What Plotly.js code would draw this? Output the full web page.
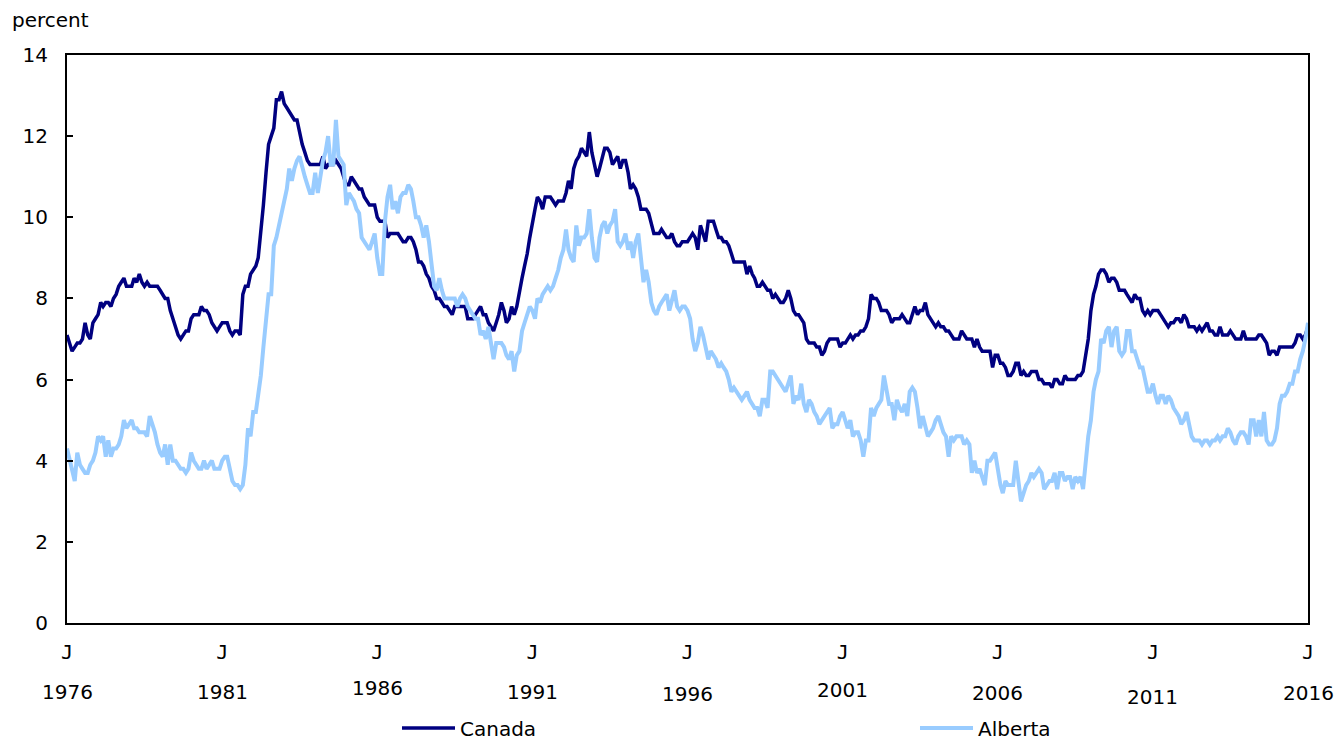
<!DOCTYPE html>
<html>
<head>
<meta charset="utf-8">
<script src="https://cdn.plot.ly/plotly-3.0.1.min.js"></script>
<style>html,body{margin:0;padding:0;background:#fff;}#chart{width:1338px;height:742px;}</style>
</head>
<body>
<div id="chart"></div>
<script>
// Monthly unemployment rate (percent), January 1976 to January 2016
const startYear = 1976;
const seriesNames = ['Canada', 'Alberta'];
const yearLabels = ['1976','1981','1986','1991','1996','2001','2006','2011','2016'];
const tickLetter = 'J';

const canada = [
  7.1,6.9,6.7,6.8,6.9,6.9,7.0,7.4,7.1,7.0,7.4,7.5,          // 1976
  7.6,7.9,7.8,7.9,7.9,7.8,8.0,8.1,8.3,8.4,8.5,8.3,          // 1977
  8.3,8.3,8.5,8.4,8.6,8.4,8.3,8.4,8.3,8.3,8.3,8.3,          // 1978
  8.2,8.1,8.0,8.0,7.7,7.5,7.3,7.1,7.0,7.1,7.2,7.2,          // 1979
  7.5,7.6,7.6,7.6,7.8,7.7,7.7,7.6,7.4,7.3,7.2,7.3,          // 1980
  7.4,7.4,7.4,7.2,7.1,7.2,7.2,7.1,8.1,8.3,8.3,8.6,          // 1981
  8.7,8.8,9.0,9.6,10.3,11.1,11.8,12.0,12.2,12.9,12.9,13.1,  // 1982
  12.8,12.7,12.6,12.5,12.4,12.4,12.1,11.8,11.6,11.4,11.3,11.3, // 1983
  11.3,11.3,11.3,11.5,11.2,11.3,11.3,11.3,11.4,11.3,11.2,11.0, // 1984
  10.8,10.8,11.0,10.9,10.8,10.7,10.7,10.5,10.4,10.3,10.3,10.3, // 1985
  10.0,9.9,9.9,9.9,9.5,9.6,9.6,9.6,9.6,9.5,9.4,9.4,         // 1986
  9.5,9.5,9.4,9.2,8.9,8.9,8.8,8.6,8.5,8.3,8.2,8.0,          // 1987
  8.0,7.9,7.8,7.8,7.7,7.6,7.8,7.8,7.8,7.8,7.8,7.5,          // 1988
  7.5,7.5,7.6,7.7,7.8,7.6,7.6,7.4,7.3,7.2,7.4,7.6,          // 1989
  7.9,7.7,7.4,7.5,7.8,7.6,7.8,8.2,8.5,8.8,9.1,9.5,          // 1990
  9.8,10.2,10.5,10.4,10.2,10.5,10.5,10.5,10.4,10.3,10.4,10.4, // 1991
  10.4,10.6,10.9,10.7,11.2,11.4,11.5,11.7,11.6,11.5,12.1,11.6, // 1992
  11.3,11.0,11.2,11.5,11.7,11.7,11.6,11.3,11.4,11.5,11.2,11.4, // 1993
  11.4,11.1,10.7,10.8,10.7,10.5,10.2,10.2,10.2,10.1,9.8,9.6,  // 1994
  9.6,9.6,9.7,9.6,9.5,9.5,9.6,9.4,9.3,9.3,9.4,9.4,          // 1995
  9.4,9.5,9.6,9.5,9.2,9.8,9.6,9.4,9.9,9.9,9.9,9.7,          // 1996
  9.5,9.5,9.4,9.4,9.3,9.1,8.9,8.9,8.9,8.9,8.9,8.6,          // 1997
  8.8,8.6,8.5,8.3,8.3,8.4,8.3,8.2,8.2,8.0,8.1,8.0,          // 1998
  7.9,7.9,8.0,8.2,8.0,7.7,7.6,7.6,7.5,7.4,7.0,6.9,          // 1999
  6.9,6.9,6.8,6.8,6.6,6.7,6.9,7.0,7.0,7.0,7.0,6.8,          // 2000
  6.9,6.9,7.0,7.1,7.0,7.1,7.1,7.2,7.2,7.3,7.5,8.1,          // 2001
  8.0,8.0,7.9,7.7,7.7,7.7,7.6,7.4,7.5,7.5,7.5,7.6,          // 2002
  7.5,7.4,7.4,7.6,7.8,7.6,7.7,7.7,7.9,7.6,7.5,7.4,          // 2003
  7.3,7.4,7.3,7.3,7.2,7.2,7.1,7.0,7.0,7.0,7.2,7.1,          // 2004
  7.0,7.0,7.0,6.8,7.0,6.8,6.7,6.7,6.7,6.7,6.3,6.6,          // 2005
  6.6,6.4,6.4,6.3,6.1,6.1,6.2,6.4,6.4,6.1,6.2,6.1,          // 2006
  6.1,6.2,6.2,6.2,6.0,6.0,5.9,5.9,5.9,5.8,6.0,6.0,          // 2007
  5.9,5.9,6.1,6.0,6.0,6.0,6.0,6.1,6.1,6.2,6.6,7.0,          // 2008
  7.7,8.1,8.3,8.6,8.7,8.7,8.6,8.4,8.5,8.5,8.4,8.2,          // 2009
  8.2,8.2,8.1,8.0,7.9,8.1,8.0,8.0,7.7,7.6,7.7,7.6,          // 2010
  7.7,7.7,7.7,7.6,7.5,7.4,7.3,7.4,7.4,7.5,7.5,7.4,          // 2011
  7.6,7.5,7.3,7.3,7.3,7.2,7.3,7.2,7.3,7.4,7.2,7.2,          // 2012
  7.1,7.1,7.3,7.1,7.1,7.1,7.2,7.1,7.0,7.0,7.0,7.2,          // 2013
  7.0,7.0,7.0,7.0,7.0,7.1,7.1,7.0,6.9,6.6,6.7,6.7,          // 2014
  6.6,6.8,6.8,6.8,6.8,6.8,6.8,6.9,7.1,7.1,7.0,7.1,          // 2015
  7.3                                                        // Jan 2016
];

const alberta = [
  4.3,4.0,3.8,3.5,4.2,3.9,3.8,3.7,3.7,3.9,4.0,4.2,          // 1976
  4.6,4.5,4.6,4.1,4.5,4.1,4.3,4.3,4.4,4.6,5.0,4.8,          // 1977
  4.9,5.0,4.8,4.8,4.7,4.7,4.7,4.6,5.1,4.9,4.7,4.4,          // 1978
  4.2,4.1,4.4,3.9,4.4,4.0,4.0,3.9,3.8,3.8,3.7,3.8,          // 1979
  4.2,4.0,3.9,3.8,3.8,4.0,3.8,3.9,4.0,3.8,3.8,3.8,          // 1980
  4.0,4.1,4.1,3.8,3.5,3.4,3.4,3.3,3.4,3.9,4.8,4.6,          // 1981
  5.2,5.2,5.6,6.1,6.8,7.6,8.1,8.1,9.3,9.5,9.8,10.1,         // 1982
  10.4,10.7,11.2,10.9,11.2,11.4,11.5,11.2,11.0,10.8,10.6,10.6, // 1983
  11.1,10.6,11.0,11.4,11.6,12.0,11.3,11.3,12.4,11.5,11.4,11.3, // 1984
  10.3,10.6,10.5,10.4,10.2,10.1,9.5,9.4,9.3,9.2,9.4,9.6,    // 1985
  9.0,8.6,8.6,9.9,10.5,10.8,10.2,10.4,10.1,10.5,10.6,10.6,  // 1986
  10.8,10.7,10.4,10.0,10.0,9.8,9.5,9.8,9.4,8.9,8.3,8.2,     // 1987
  8.5,8.2,8.0,8.0,8.0,8.0,8.0,7.8,8.0,8.1,8.0,7.8,          // 1988
  7.7,7.6,7.5,7.5,7.1,7.2,7.0,7.3,6.8,6.5,6.9,6.9,          // 1989
  6.9,6.8,6.6,6.5,6.7,6.2,6.6,6.7,7.2,7.4,7.6,7.8,          // 1990
  7.7,7.5,8.0,7.9,8.1,8.2,8.3,8.2,8.3,8.5,8.7,9.0,          // 1991
  9.2,9.7,9.2,9.0,8.9,9.8,9.3,9.5,9.5,9.6,10.2,9.5,         // 1992
  9.0,8.9,9.5,9.8,9.9,9.6,9.8,9.9,10.2,9.4,9.3,9.4,         // 1993
  9.6,9.2,9.4,9.0,9.4,9.6,9.1,8.4,8.7,8.4,7.9,7.7,          // 1994
  7.6,7.8,7.9,8.0,8.1,7.7,8.0,8.2,7.8,7.7,7.8,7.8,          // 1995
  7.7,7.5,7.0,6.7,6.9,7.3,7.1,6.8,6.5,6.7,6.6,6.5,          // 1996
  6.3,6.4,6.3,6.2,6.0,5.7,5.8,5.7,5.6,5.5,5.6,5.7,          // 1997
  5.5,5.4,5.3,5.3,5.1,5.5,5.5,5.3,6.2,6.2,6.1,6.0,          // 1998
  5.9,5.8,5.7,5.9,6.1,5.4,5.6,5.5,5.9,5.4,5.2,5.5,          // 1999
  5.4,5.2,5.1,4.9,5.0,5.1,5.2,5.3,4.8,4.9,4.9,5.1,          // 2000
  5.2,5.0,4.8,5.0,4.6,4.7,4.7,4.5,4.1,4.5,4.5,5.3,          // 2001
  5.1,5.3,5.4,5.5,6.1,5.7,5.4,5.4,5.0,5.5,5.3,5.2,          // 2002
  5.4,5.1,5.7,5.8,5.7,5.3,4.8,5.1,4.8,4.6,4.7,4.8,          // 2003
  5.0,5.1,4.9,4.7,4.6,4.1,4.6,4.5,4.6,4.6,4.6,4.4,          // 2004
  4.5,4.4,3.7,4.0,3.7,3.8,3.6,3.4,4.0,4.0,4.1,4.2,          // 2005
  3.8,3.4,3.2,3.5,3.4,3.4,3.4,4.0,3.4,3.0,3.2,3.4,          // 2006
  3.5,3.7,3.6,3.7,3.8,3.7,3.3,3.4,3.5,3.5,3.7,3.3,          // 2007
  3.7,3.7,3.5,3.6,3.6,3.3,3.6,3.5,3.6,3.3,4.1,4.6,          // 2008
  5.0,5.7,6.0,6.2,7.0,6.9,7.2,7.3,6.8,7.2,7.3,6.7,          // 2009
  6.6,6.7,7.2,7.2,6.7,6.7,6.5,6.3,6.3,6.0,5.7,5.7,          // 2010
  5.9,5.6,5.4,5.6,5.6,5.4,5.6,5.5,5.3,5.2,5.1,4.9,          // 2011
  5.0,5.2,4.9,4.6,4.5,4.5,4.5,4.4,4.5,4.5,4.4,4.5,          // 2012
  4.5,4.6,4.5,4.6,4.6,4.8,4.7,4.5,4.4,4.6,4.7,4.7,          // 2013
  4.6,4.4,5.0,5.0,4.6,5.0,4.6,5.2,4.5,4.4,4.4,4.5,          // 2014
  4.8,5.4,5.6,5.6,5.7,5.9,5.9,6.2,6.2,6.5,6.7,7.0,          // 2015
  7.4                                                        // Jan 2016
];

// Month dates for each value
function monthDate(i) {
  const y = startYear + Math.floor(i / 12);
  const m = (i % 12) + 1;
  return y + '-' + (m < 10 ? '0' + m : m) + '-01';
}
const dates = canada.map((_, i) => monthDate(i));
const tickDates = yearLabels.map(y => y + '-01-01');

const traces = [
  { x: dates, y: canada, name: seriesNames[0], type: 'scatter', mode: 'lines',
    line: { color: '#000080', width: 3.5 }, hoverinfo: 'skip', legend: 'legend' },
  { x: dates, y: alberta, name: seriesNames[1], type: 'scatter', mode: 'lines',
    line: { color: '#99CCFF', width: 4 }, hoverinfo: 'skip', legend: 'legend2' }
];

const plotLeft = 67, plotW = 1241;
const plotTop = 55, plotBottom = 623, plotH = plotBottom - plotTop;
const yearCenter = [692, 692, 688, 692, 694, 690, 693, 697, 693];
const txtFont = { family: 'DejaVu Sans, Verdana, sans-serif', size: 20, color: '#000' };

const annotations = yearLabels.map((lab, i) => ({
  text: lab, xref: 'x', x: tickDates[i], yref: 'paper',
  y: (plotBottom - yearCenter[i]) / plotH, yanchor: 'middle', xanchor: 'center',
  showarrow: false, font: txtFont
}));
annotations.push({
  text: 'percent', xref: 'paper', x: (10 - plotLeft) / plotW, xanchor: 'left',
  yref: 'paper', y: (plotBottom - 20) / plotH, yanchor: 'middle', showarrow: false,
  font: txtFont
});

function legendAt(px) {
  return {
    orientation: 'h', x: (px - plotLeft) / plotW, xanchor: 'left',
    y: (plotBottom - 728) / plotH, yanchor: 'middle',
    itemwidth: 53, font: txtFont, bgcolor: 'rgba(0,0,0,0)', borderwidth: 0
  };
}

const layout = {
  width: 1338, height: 742,
  margin: { l: 67, r: 30, t: 55, b: 119, pad: 0, autoexpand: false },
  paper_bgcolor: '#ffffff', plot_bgcolor: '#ffffff',
  font: txtFont,
  xaxis: {
    type: 'date', range: ['1976-01-01', '2016-01-01'],
    tickmode: 'array', tickvals: tickDates, ticktext: tickDates.map(() => tickLetter),
    tickfont: { family: 'DejaVu Sans Mono, monospace', size: 20, color: '#000' },
    ticks: '', showline: true, linecolor: '#000', linewidth: 2, mirror: true,
    showgrid: false, zeroline: false, ticklabelstandoff: 10, fixedrange: true
  },
  yaxis: {
    range: [0, 14], tick0: 0, dtick: 2, ticks: 'inside', ticklen: 6, tickwidth: 2, tickcolor: '#000',
    showline: true, linecolor: '#000', linewidth: 2, mirror: true,
    showgrid: false, zeroline: false, ticklabelstandoff: 13, fixedrange: true,
    tickfont: txtFont
  },
  showlegend: true,
  legend: legendAt(397),
  legend2: legendAt(915),
  annotations: annotations
};

Plotly.newPlot('chart', traces, layout, { displayModeBar: false, staticPlot: true });
</script>
</body>
</html>
